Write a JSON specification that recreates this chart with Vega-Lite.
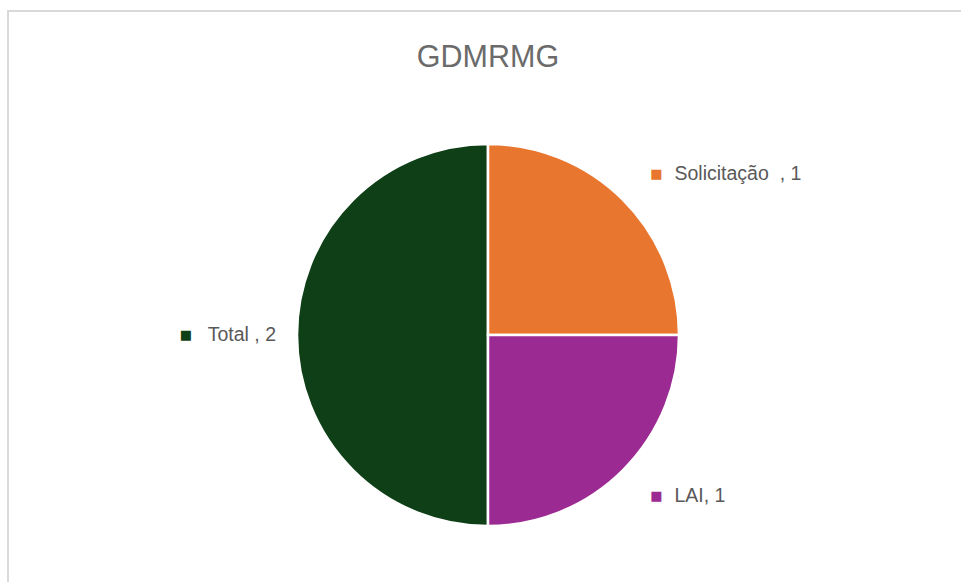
{
  "$schema": "https://vega.github.io/schema/vega-lite/v6.json",
  "width": 960,
  "height": 648,
  "autosize": {"type": "none"},
  "padding": {"left": 8, "top": 11, "right": -7, "bottom": -77},
  "background": "white",
  "view": {"stroke": "#d9d9d9", "strokeWidth": 2},
  "title": {
    "text": "GDMRMG",
    "font": "Liberation Sans, Arial, sans-serif",
    "fontSize": 30.5,
    "fontWeight": "normal",
    "color": "#6b6b6b",
    "anchor": "middle",
    "baseline": "alphabetic",
    "offset": -86
  },
  "data": {
    "values": [
      {"categoria": "Total ", "valor": 2, "rotulo": "Total , 2"},
      {"categoria": "Solicitação ", "valor": 1, "rotulo": "Solicitação\u00a0\u00a0, 1"},
      {"categoria": "LAI", "valor": 1, "rotulo": "LAI, 1"}
    ]
  },
  "encoding": {
    "theta": {
      "field": "valor",
      "type": "quantitative",
      "stack": true,
      "scale": {"range": [3.141592653589793, 9.42477796076938]}
    },
    "order": {"field": "categoria", "sort": "descending"},
    "color": {
      "field": "categoria",
      "type": "nominal",
      "scale": {
        "domain": ["Solicitação ", "LAI", "Total "],
        "range": ["#E8762F", "#9C2A93", "#0E3F17"]
      },
      "legend": null
    }
  },
  "layer": [
    {
      "mark": {"type": "arc", "outerRadius": 191, "stroke": "white", "strokeWidth": 2.5}
    },
    {
      "mark": {
        "type": "text",
        "radius": 227,
        "align": "left",
        "dx": 26,
        "font": "Liberation Sans, Arial, sans-serif",
        "fontSize": 19.5
      },
      "encoding": {
        "text": {
          "condition": {"test": "datum.categoria !== 'Total '", "field": "rotulo", "type": "nominal"},
          "value": ""
        },
        "color": {"value": "#595959"}
      }
    },
    {
      "mark": {"type": "text", "radius": 227, "align": "center", "dx": 8, "fontSize": 13, "font": "DejaVu Sans"},
      "encoding": {
        "text": {
          "condition": {"test": "datum.categoria !== 'Total '", "value": "■"},
          "value": ""
        }
      }
    },
    {
      "mark": {
        "type": "text",
        "radius": 212,
        "align": "right",
        "font": "Liberation Sans, Arial, sans-serif",
        "fontSize": 19.5
      },
      "encoding": {
        "text": {
          "condition": {"test": "datum.categoria === 'Total '", "field": "rotulo", "type": "nominal"},
          "value": ""
        },
        "color": {"value": "#595959"}
      }
    },
    {
      "mark": {"type": "text", "radius": 302, "align": "center", "fontSize": 13, "font": "DejaVu Sans"},
      "encoding": {
        "text": {
          "condition": {"test": "datum.categoria === 'Total '", "value": "■"},
          "value": ""
        }
      }
    }
  ]
}
